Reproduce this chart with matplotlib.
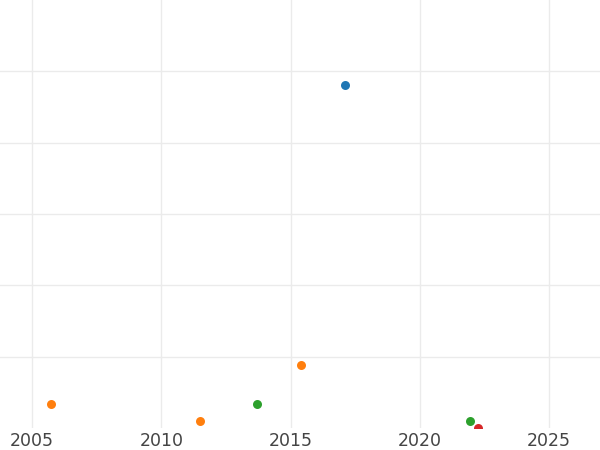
import matplotlib
matplotlib.use("Agg")
import matplotlib.pyplot as plt

# data (year, value) per series
blue_x = [2017.1]
blue_y = [4.81]
orange_x = [2005.75, 2011.5, 2015.4]
orange_y = [0.34, 0.10, 0.89]
green_x = [2013.7, 2021.95]
green_y = [0.34, 0.10]
red_x = [2022.25]
red_y = [0.0]

xticks = [2005, 2010, 2015, 2020, 2025]
yticks = [1, 2, 3, 4, 5]

fig = plt.figure(figsize=(6, 4.5), dpi=100)
ax = fig.add_axes([0, 1 - 428 / 450, 1, 428 / 450])
ax.set_xlim(2003.76, 2026.97)
ax.set_ylim(0, 6)
for s in ax.spines.values():
    s.set_visible(False)
ax.set_xticks(xticks)
ax.set_xticklabels([str(t) for t in xticks])
ax.set_yticks(yticks)
ax.set_yticklabels([])
ax.tick_params(axis="both", length=0)
ax.tick_params(axis="x", labelsize=12.5, labelcolor="#444444", pad=3)
ax.grid(True, color="#ebebeb", linewidth=1.0)
ax.set_axisbelow(True)

ms = 42
ax.scatter(blue_x, blue_y, s=ms, color="#1f77b4", zorder=3, linewidths=0)
ax.scatter(orange_x, orange_y, s=ms, color="#ff7f0e", zorder=3, linewidths=0)
ax.scatter(green_x, green_y, s=ms, color="#2ca02c", zorder=3, linewidths=0)
ax.scatter(red_x, red_y, s=ms, color="#d62728", zorder=3, linewidths=0)

fig.savefig("out.png", dpi=100)
